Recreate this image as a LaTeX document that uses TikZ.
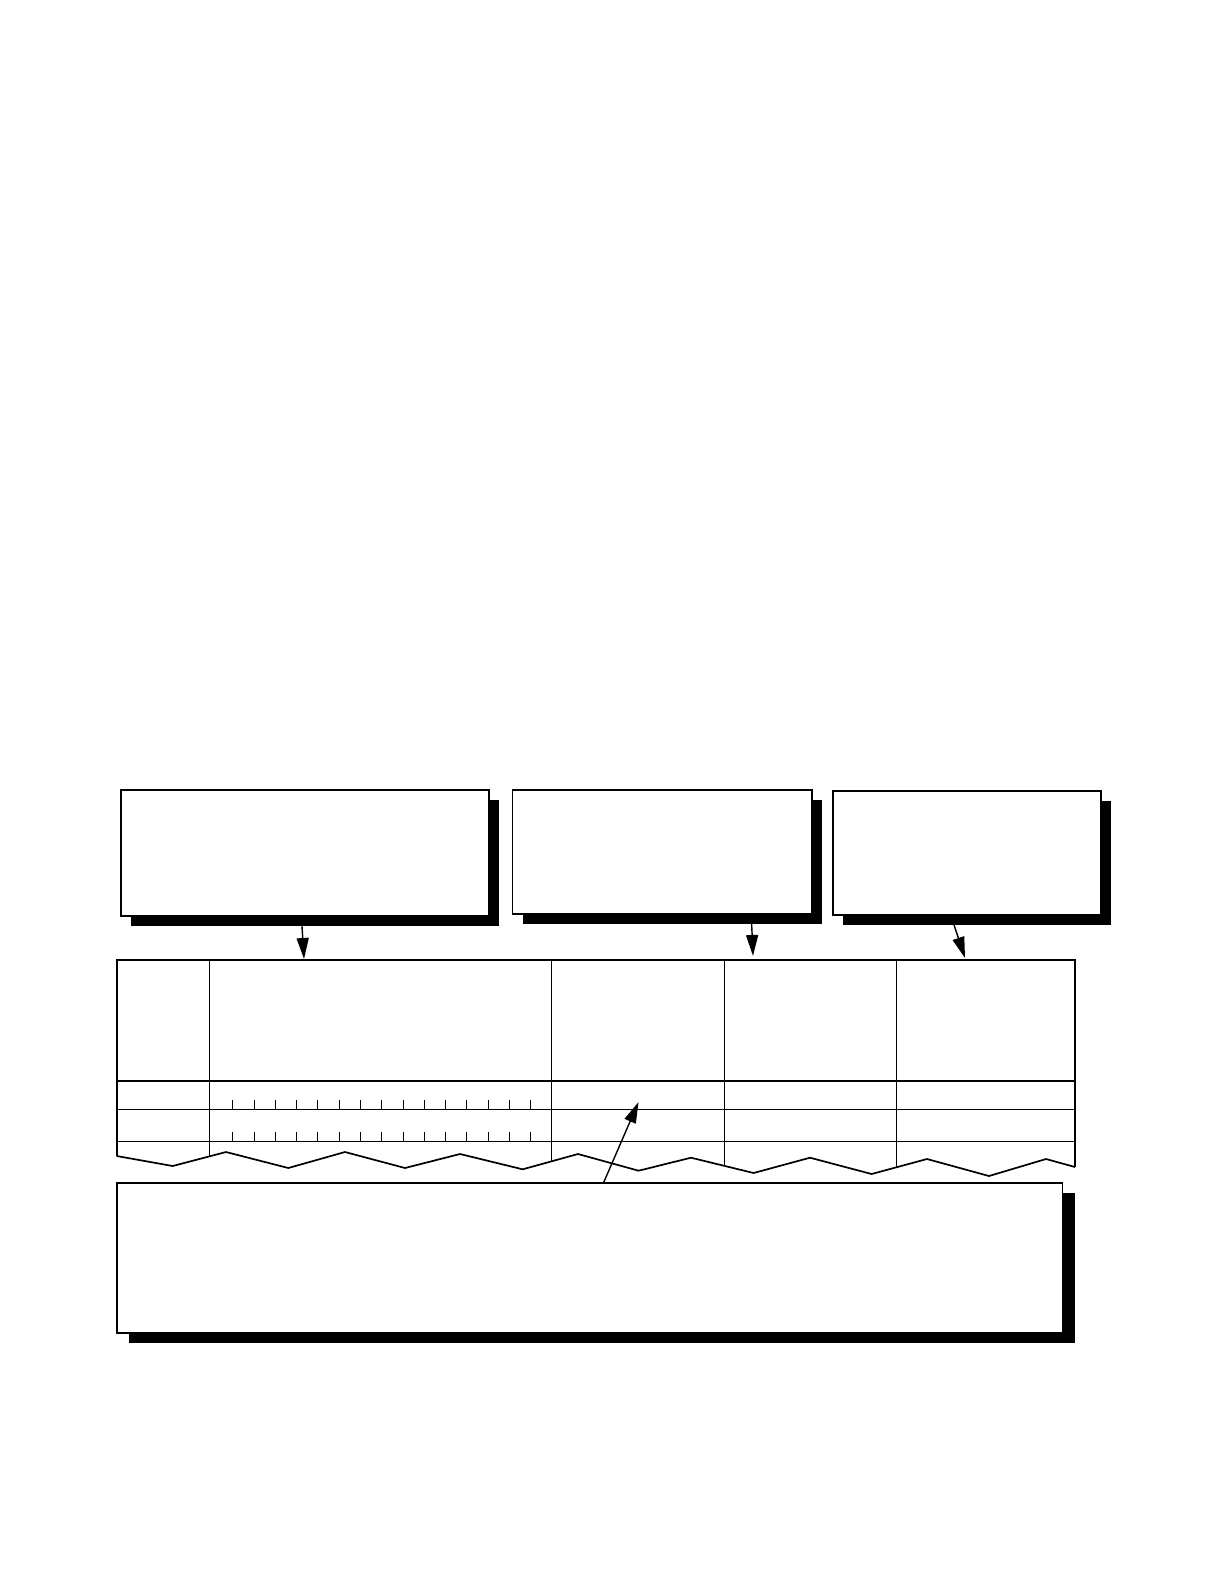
\documentclass[tikz,border=0pt]{standalone}
\usetikzlibrary{arrows.meta,shadows}

\begin{document}
\begin{tikzpicture}[x=0.5pt, y=-0.5pt]
    % Define styles
    \tikzset{
        callout/.style={draw, line width=0.85pt, fill=white, inner sep=0pt,
            general shadow={fill=black, shadow xshift=#1, shadow yshift=-5pt}},
        callout/.default=5pt,
        tableedge/.style={line width=0.85pt, line join=miter},
        headrule/.style={line width=0.9pt},
        gridline/.style={line width=0.5pt},
        scalemark/.style={line width=0.45pt},
        leader/.style={-{Triangle[length=10.5pt, width=6pt]}, line width=0.7pt}
    }

    % Page
    \useasboundingbox (0,0) rectangle (1224,1584);

    % Callout boxes
    \node[callout, minimum width=184.2pt, minimum height=62.9pt] (box1) at (304.9,852.9) {};
    \node[callout, minimum width=149.6pt, minimum height=62pt] (box2) at (662.2,852) {};
    \node[callout, minimum width=134pt, minimum height=62pt] (box3) at (967,853) {};
    \node[callout=6pt, minimum width=472.8pt, minimum height=75pt] (box4) at (589.8,1258) {};

    % Table outline
    \draw[tableedge] (116.7,1156) -- (116.7,960) -- (1075,960) -- (1075,1167);

    % Torn bottom edge
    \draw[tableedge] (116.7,1156) -- (172.7,1166) -- (226,1152) -- (288.3,1168)
        -- (345,1152) -- (405,1168) -- (460,1154) -- (522.7,1169.3)
        -- (578,1154) -- (638.6,1170.7) -- (691,1157.7) -- (753.6,1173)
        -- (810,1157.7) -- (871.6,1174) -- (927,1159) -- (989,1176)
        -- (1046,1159) -- (1075,1167);

    % Column lines
    \draw[gridline] (209.3,960) -- (209.3,1156.4);
    \draw[gridline] (551.7,960) -- (551.7,1161.3);
    \draw[gridline] (724.5,960) -- (724.5,1165.9);
    \draw[gridline] (896,960) -- (896,1167.4);

    % Row lines
    \draw[headrule] (116.7,1081) -- (1075,1081);
    \draw[gridline] (116.7,1109.3) -- (1075,1109.3);
    \draw[gridline] (116.7,1141.5) -- (1075,1141.5);

    % Scale marks
    \foreach \i in {0,...,14} {
        \draw[scalemark] (232.7+21.29*\i,1100) -- ++(0,9.3);
        \draw[scalemark] (232.7+21.29*\i,1132.2) -- ++(0,9.3);
    }

    % Arrow targets
    \coordinate (cellA) at (304,959);
    \coordinate (cellB) at (753,956);
    \coordinate (cellC) at (965,958);
    \coordinate (cellD) at (638.5,1102);

    % Arrows
    \draw[leader] ([shift={(-3,8)}]box1.south) -- (cellA);
    \draw[leader] ([shift={(89.4,8)}]box2.south) -- (cellB);
    \draw[leader] ([shift={(-13,9)}]box3.south) -- (cellC);
    \draw[leader] ([shift={(14,0)}]box4.north) -- (cellD);

\end{tikzpicture}
\end{document}
